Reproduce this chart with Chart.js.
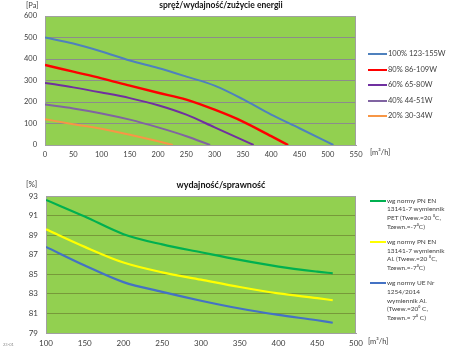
<html>
<head>
<script src="https://cdn.jsdelivr.net/npm/chart.js@4.4.0/dist/chart.umd.min.js"></script>
<title>spręż / sprawność</title>
<style>
  body { margin:0; background:#fff; font-family: Lato, "Open Sans", sans-serif; }
  #wrap { position:relative; width:450px; height:354px; overflow:hidden; }
  canvas { position:absolute; left:0; }
  .t { position:absolute; white-space:nowrap; color:#404040; }
  .ttl { position:absolute; white-space:nowrap; color:#111; font-weight:bold; }
  .sw { position:absolute; height:2px; }
</style>
</head>
<body>
<div id="wrap">
  <canvas id="top-chart" width="372" height="166" style="top:0"></canvas>
  <canvas id="bottom-chart" width="372" height="184" style="top:170px"></canvas>

  <div class="ttl" style="left:221px; top:0px; transform:translateX(-50%); font-size:8.5px;">spręż/wydajność/zużycie energii</div>
  <div class="t" style="left:26px; top:1px; font-size:7.5px;">[Pa]</div>
  <div class="t" style="left:370px; top:148px; font-size:7.5px;">[m³/h]</div>

  <div class="ttl" style="left:221px; top:179px; transform:translateX(-50%); font-size:9px;">wydajność/sprawność</div>
  <div class="t" style="left:26px; top:179px; font-size:8px;">[%]</div>
  <div class="t" style="left:368px; top:337px; font-size:7.5px;">[m³/h]</div>
  <div class="t" style="left:3px; top:342px; font-size:4px; color:#888;">23-01</div>

  <div id="legend-top"></div>
  <div id="legend-bottom"></div>
</div>

<script>
  // ---- top chart: pressure vs flow ----
  var topNames = ['100% 123-155W', '80% 86-109W', '60% 65-80W', '40% 44-51W', '20% 30-34W'];
  var topColors = ['#4F81BD', '#FF0000', '#7030A0', '#8064A2', '#F79646'];

  var flow100 = [0, 50, 100, 150, 200, 250, 300, 350, 400, 450, 510];
  var pa100   = [500, 472, 435, 393, 358, 318, 276, 213, 141, 78, 0];
  var flow80  = [0, 50, 100, 150, 200, 250, 300, 350, 400, 430];
  var pa80    = [372, 341, 310, 276, 243, 211, 164, 109, 41, 0];
  var flow60  = [0, 50, 100, 150, 200, 250, 300, 350, 369];
  var pa60    = [289, 268, 244, 218, 185, 141, 82, 23, 0];
  var flow40  = [0, 50, 100, 150, 200, 250, 292];
  var pa40    = [188, 170, 147, 118, 82, 41, 0];
  var flow20  = [0, 50, 100, 150, 200, 226];
  var pa20    = [120, 97, 76, 48, 17, 0];

  var topX = [flow100, flow80, flow60, flow40, flow20];
  var topY = [pa100, pa80, pa60, pa40, pa20];

  // ---- bottom chart: efficiency vs flow ----
  var botNames = [
    ['wg normy PN EN', '13141-7 wymiennik', 'PET (Twew.=20 ⁰C,', 'Tzewn.=-7⁰C)'],
    ['wg normy PN EN', '13141-7 wymiennik', 'Al. (Twew.=20 ⁰C,', 'Tzewn.=-7⁰C)'],
    ['wg normy UE Nr', '1254/2014', 'wymiennik Al.', '(Twew.=20⁰ C,', 'Tzewn.= 7⁰ C)']
  ];
  var botColors = ['#00B050', '#FFFF00', '#4472C4'];

  var flowEff = [100, 150, 200, 250, 300, 350, 400, 450, 470];
  var effPET  = [92.6, 90.9, 89.1, 88.05, 87.25, 86.47, 85.78, 85.27, 85.1];
  var effAl   = [89.6, 87.8, 86.2, 85.2, 84.45, 83.7, 83.05, 82.56, 82.35];
  var effUE   = [87.8, 85.9, 84.2, 83.2, 82.3, 81.5, 80.85, 80.3, 80.05];
  var botY = [effPET, effAl, effUE];

  function pts(xs, ys) {
    var out = [];
    for (var i = 0; i < xs.length; i++) out.push({x: xs[i], y: ys[i]});
    return out;
  }

  // green plot area + frame
  var plotBg = {
    id: 'plotBg',
    beforeDraw: function(chart, args, opts) {
      var a = chart.chartArea, c = chart.ctx;
      c.save();
      c.fillStyle = '#92D050';
      c.fillRect(a.left, a.top, a.right - a.left, a.bottom - a.top);
      c.restore();
    },
    beforeDatasetsDraw: function(chart, args, opts) {
      var a = chart.chartArea, c = chart.ctx;
      c.save();
      c.strokeStyle = opts.frame;
      c.lineWidth = 1;
      c.strokeRect(a.left + 0.5, a.top + 0.5, a.right - a.left - 1, a.bottom - a.top);
      c.restore();
    }
  };

  function makeChart(id, sets, xOpt, yOpt, yWidth, xHeight, padTop, gridColor, frame, lw) {
    return new Chart(document.getElementById(id), {
      type: 'line',
      data: { datasets: sets },
      options: {
        responsive: false,
        animation: false,
        layout: { padding: { top: padTop, right: 16, left: 0, bottom: 0 } },
        elements: { point: { radius: 0 }, line: { borderWidth: lw, cubicInterpolationMode: 'monotone' } },
        plugins: { legend: { display: false }, tooltip: { enabled: false }, plotBg: { frame: frame } },
        scales: {
          x: Object.assign({
            type: 'linear',
            grid: { display: false, drawTicks: false },
            border: { display: true, color: frame },
            afterFit: function(s) { s.height = xHeight; }
          }, xOpt),
          y: Object.assign({
            grid: { color: gridColor, drawTicks: false },
            border: { display: true, color: frame },
            afterFit: function(s) { s.width = yWidth; }
          }, yOpt)
        }
      },
      plugins: [plotBg]
    });
  }

  var topSets = [];
  for (var i = 0; i < topNames.length; i++) {
    topSets.push({ label: topNames[i], data: pts(topX[i], topY[i]), borderColor: topColors[i], borderWidth: i == 1 ? 2.4 : 2 });
  }
  makeChart('top-chart', topSets,
    { min: 0, max: 550, ticks: { stepSize: 50, autoSkip: false, maxRotation: 0, padding: 5, color: '#404040', font: { family: 'Lato', size: 7.5 } } },
    { min: 0, max: 600, ticks: { stepSize: 100, padding: 8, color: '#404040', font: { family: 'Lato', size: 7.5 } } },
    45, 21, 16, '#8c8c8c', '#a0a0a0', 2);

  var botSets = [];
  for (var j = 0; j < botY.length; j++) {
    botSets.push({ label: botNames[j].join(' '), data: pts(flowEff, botY[j]), borderColor: botColors[j] });
  }
  makeChart('bottom-chart', botSets,
    { min: 100, max: 500, ticks: { stepSize: 50, autoSkip: false, maxRotation: 0, padding: 6, color: '#404040', font: { family: 'Lato', size: 8 } } },
    { min: 79, max: 93, ticks: { stepSize: 2, padding: 8, color: '#404040', font: { family: 'Lato', size: 8 } } },
    46, 21, 26, '#77993a', '#a0a0a0', 2.2);

  // legends
  var lt = document.getElementById('legend-top');
  var html = '';
  for (var k = 0; k < topNames.length; k++) {
    var y = 54 + k * 15.5;
    html += "<div class='sw' style='left:368px; width:19px; top:" + (y - 1) + "px; background:" + topColors[k] + "'></div>";
    html += "<div class='t' style='left:388px; top:" + (y - 5) + "px; font-size:7.5px;'>" + topNames[k] + "</div>";
  }
  lt.innerHTML = html;

  var lb = document.getElementById('legend-bottom');
  html = '';
  for (var m = 0; m < botNames.length; m++) {
    var yb = 201 + m * 41.2;
    html += "<div class='sw' style='left:370px; width:16px; top:" + (yb - 1) + "px; background:" + botColors[m] + "'></div>";
    html += "<div class='t' style='left:387px; top:" + (yb - 4.4) + "px; font-size:6.5px; line-height:8.8px;'>" + botNames[m].join('<br>') + "</div>";
  }
  lb.innerHTML = html;
</script>
</body>
</html>
